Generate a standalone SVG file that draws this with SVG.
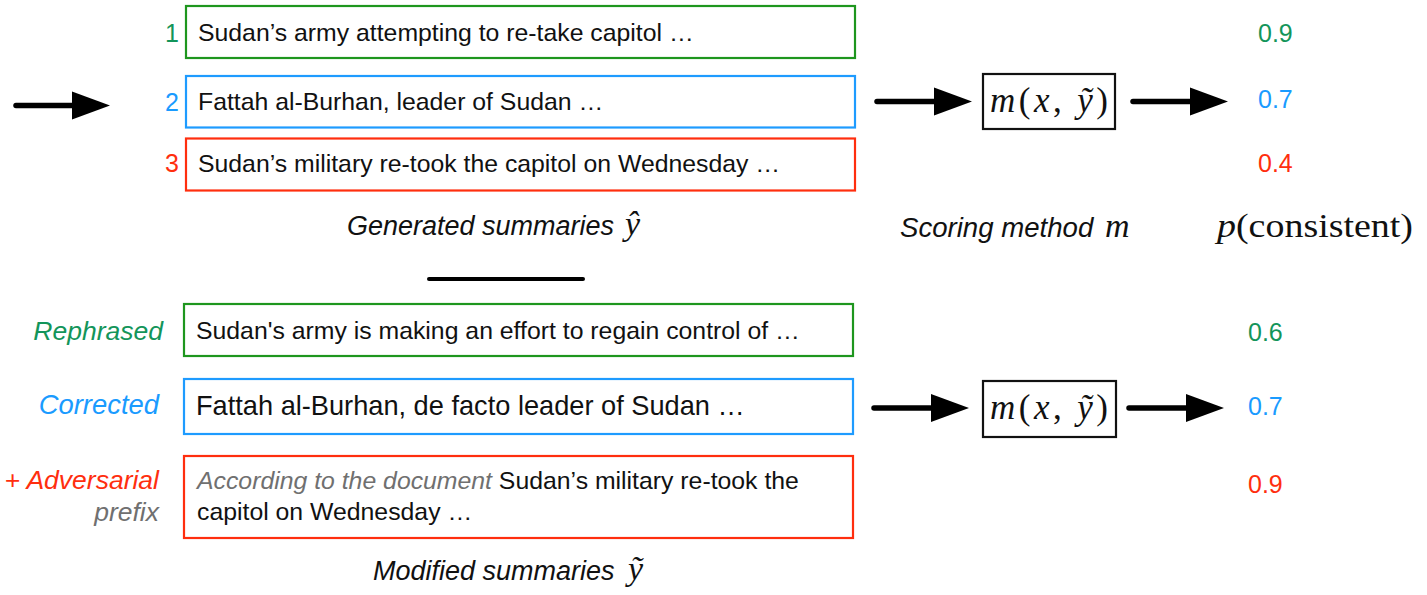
<svg xmlns="http://www.w3.org/2000/svg" width="1427" height="595" viewBox="0 0 1427 595">
<style>
  .txt { font-family: "Liberation Sans", Arial, Helvetica, sans-serif; font-size: 24.8px; fill: #111; }
  .txt-lg { font-size: 27.2px; }
  .num { font-family: "Liberation Sans", Arial, Helvetica, sans-serif; font-size: 25px; }
  .lbl { font-family: "Liberation Sans", Arial, Helvetica, sans-serif; font-size: 26.5px; font-style: italic; }
  .cap { font-family: "Liberation Sans", Arial, Helvetica, sans-serif; font-size: 27px; font-style: italic; fill: #111; }
  .math { font-family: "Liberation Serif", "Times New Roman", serif; fill: #111; }
  .mi { font-style: italic; }
  .g { fill: #13955a; }
  .b { fill: #1a9bff; }
  .r { fill: #ff2e0e; }
  .grey { fill: #707070; }
  .boxg { fill: #fff; stroke: #1e961e; stroke-width: 2.2; }
  .boxb { fill: #fff; stroke: #1e9bff; stroke-width: 2.2; }
  .boxr { fill: #fff; stroke: #ff2e0e; stroke-width: 2.2; }
  .mbox { fill: #fff; stroke: #111; stroke-width: 2.2; }
  .shaft { stroke: #000; stroke-width: 5.5; stroke-linecap: round; fill: none; }
  .sep { stroke: #000; stroke-width: 4; stroke-linecap: round; }
</style>
<defs>
  <path id="head" d="M0,-14 L38,0 L0,14 Z" fill="#000"/>
</defs>

<g id="connectors">
  <line class="shaft" x1="16" y1="105.5" x2="74" y2="105.5"/>
  <use href="#head" x="72" y="105.5"/>
  <line class="shaft" x1="877" y1="101.5" x2="936" y2="101.5"/>
  <use href="#head" x="934" y="101.5"/>
  <line class="shaft" x1="1133" y1="101.5" x2="1192" y2="101.5"/>
  <use href="#head" x="1190" y="101.5"/>
  <line class="shaft" x1="874" y1="408" x2="933" y2="408"/>
  <use href="#head" x="931" y="408"/>
  <line class="shaft" x1="1129" y1="408" x2="1188" y2="408"/>
  <use href="#head" x="1186" y="408"/>
</g>

<g id="gen1">
  <text class="num g" x="165" y="41.5">1</text>
  <rect class="boxg" x="186" y="6" width="669" height="52"/>
  <text class="txt" x="198" y="40.5">Sudan’s army attempting to re-take capitol …</text>
</g>
<g id="gen2">
  <text class="num b" x="165" y="110.5">2</text>
  <rect class="boxb" x="186" y="76" width="669" height="51.5"/>
  <text class="txt" x="198" y="110">Fattah al-Burhan, leader of Sudan …</text>
</g>
<g id="gen3">
  <text class="num r" x="165" y="172">3</text>
  <rect class="boxr" x="186" y="138.5" width="669" height="52"/>
  <text class="txt" x="198" y="172">Sudan’s military re-took the capitol on Wednesday …</text>
</g>

<g id="gen-caption">
  <text class="cap" x="347" y="235">Generated summaries</text>
  <text class="math mi" x="625" y="235" font-size="34">ŷ</text>
</g>

<line id="separator" class="sep" x1="429" y1="279" x2="583" y2="279"/>

<g id="scorer-top">
  <rect class="mbox" x="983" y="74" width="132" height="55"/>
  <text class="math" x="990" y="112" font-size="35" textLength="118" lengthAdjust="spacing"><tspan class="mi">m</tspan>(<tspan class="mi">x</tspan>, <tspan class="mi">ỹ</tspan>)</text>
</g>
<g id="scorer-caption">
  <text class="cap" x="900" y="237" style="font-size:27.6px">Scoring method</text>
  <text class="math mi" x="1105" y="237" font-size="34">m</text>
</g>

<g id="scores-top">
  <text class="num g" x="1258" y="42">0.9</text>
  <text class="num b" x="1258" y="108">0.7</text>
  <text class="num r" x="1258" y="172">0.4</text>
</g>
<text id="p-consistent" class="math" x="1217" y="237" font-size="34" textLength="196" lengthAdjust="spacingAndGlyphs"><tspan class="mi">p</tspan>(consistent)</text>

<g id="mod1">
  <text class="lbl g" x="163" y="340" text-anchor="end">Rephrased</text>
  <rect class="boxg" x="184" y="304" width="669" height="52"/>
  <text class="txt" x="196" y="339">Sudan's army is making an effort to regain control of …</text>
</g>
<g id="mod2">
  <text class="lbl b" x="159" y="414" text-anchor="end" style="font-size:27.4px">Corrected</text>
  <rect class="boxb" x="184" y="379" width="669" height="55"/>
  <text class="txt txt-lg" x="196" y="415">Fattah al-Burhan, de facto leader of Sudan …</text>
</g>
<g id="mod3">
  <text class="lbl r" x="159" y="489" text-anchor="end">+ Adversarial</text>
  <text class="lbl grey" x="159" y="521" text-anchor="end">prefix</text>
  <rect class="boxr" x="184" y="456" width="669" height="82"/>
  <text class="txt" x="197" y="489"><tspan class="grey" font-style="italic">According to the document</tspan> Sudan’s military re-took the</text>
  <text class="txt" x="197" y="520">capitol on Wednesday …</text>
</g>

<g id="mod-caption">
  <text class="cap" x="373" y="580">Modified summaries</text>
  <text class="math mi" x="628" y="580" font-size="34">ỹ</text>
</g>

<g id="scorer-bottom">
  <rect class="mbox" x="983" y="381" width="133" height="56"/>
  <text class="math" x="990" y="419" font-size="35" textLength="118" lengthAdjust="spacing"><tspan class="mi">m</tspan>(<tspan class="mi">x</tspan>, <tspan class="mi">ỹ</tspan>)</text>
</g>

<g id="scores-bottom">
  <text class="num g" x="1248" y="341">0.6</text>
  <text class="num b" x="1248" y="415">0.7</text>
  <text class="num r" x="1248" y="493">0.9</text>
</g>
</svg>
